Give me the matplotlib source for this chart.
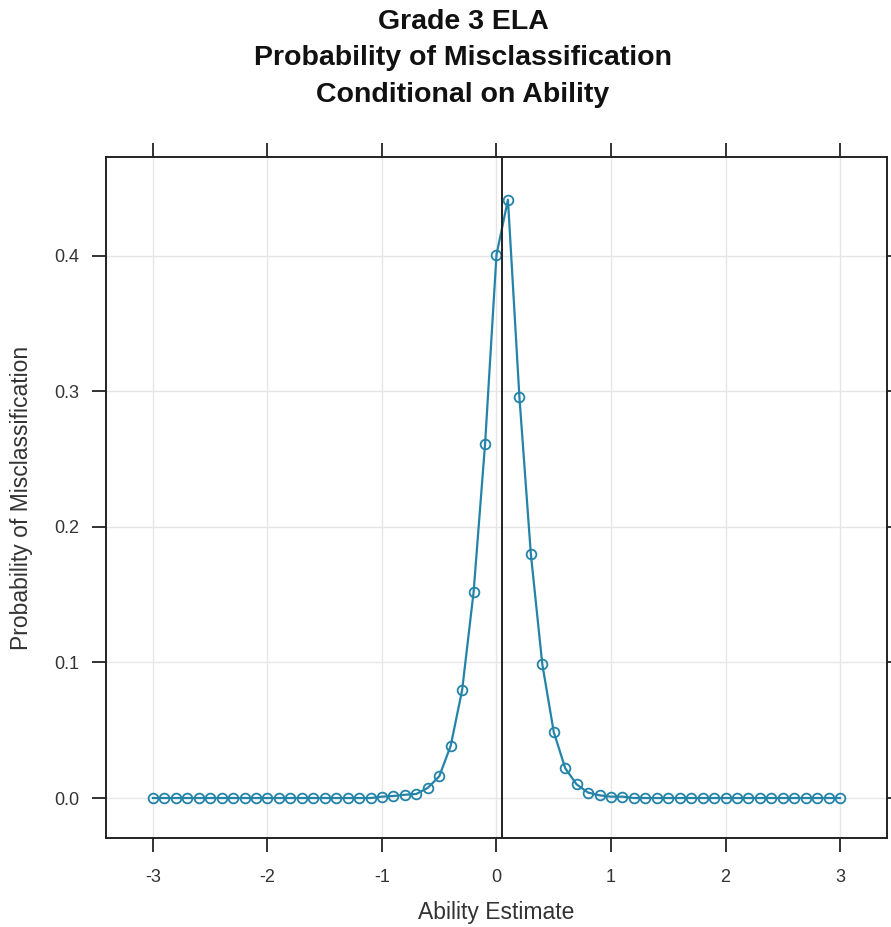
import matplotlib
matplotlib.use("Agg")
import matplotlib.pyplot as plt
import numpy as np

plt.rcParams['font.family'] = ['Liberation Sans', 'DejaVu Sans']

ability = [round(-3 + 0.1 * i, 1) for i in range(61)]
prob = [0.0] * 20 + [
    0.001, 0.0015, 0.0024, 0.003, 0.0075, 0.016, 0.0385, 0.0797, 0.152, 0.261,
    0.401, 0.4415, 0.296, 0.180, 0.0987, 0.0487, 0.022, 0.010, 0.004, 0.002,
    0.001, 0.001,
] + [0.0] * 19
cut_score = 0.05
xticks = [-3, -2, -1, 0, 1, 2, 3]
yticks = [0.0, 0.1, 0.2, 0.3, 0.4]

col = "#2383a8"
W, H = 891, 927
L, R, T, B = 106, 887, 157, 838
fig = plt.figure(figsize=(W/100, H/100), dpi=100)
ax = fig.add_axes([L/W, 1 - B/H, (R-L)/W, (B-T)/H])

ax.grid(True, color="#e6e6e6", linewidth=1)
ax.set_axisbelow(True)
ax.plot(ability, prob, color=col, linewidth=1.6, marker='o', markersize=7,
        markerfacecolor='none', markeredgecolor=col, markeredgewidth=1.3, zorder=3)
ax.axvline(cut_score, color="#222222", linewidth=1.4, zorder=4)

ax.set_xlim(-3.41, 3.41)
ax.set_ylim(-0.0295, 0.473)
ax.set_xticks(xticks)
ax.set_xticklabels([str(t) for t in xticks])
ax.set_yticks(yticks)
ax.set_yticklabels([f"{t:.1f}" for t in yticks])
ax.tick_params(axis='both', direction='out', length=10, width=1.3, color="#222222",
               labelsize=13, labelcolor="#333333", top=True, right=True)
ax.tick_params(axis='x', pad=12)
ax.tick_params(axis='y', pad=9)
for s in ax.spines.values():
    s.set_linewidth(1.4)
    s.set_color("#222222")

ax.set_xlabel("Ability Estimate", fontsize=16.5, color="#333333")
ax.xaxis.set_label_coords(0.5, (B - 913) / (B - T))
ax.xaxis.label.set_va('center')
ax.set_ylabel("Probability of Misclassification", fontsize=16.5, color="#333333")
ax.yaxis.set_label_coords((22 - L) / (R - L), 0.5)
ax.yaxis.label.set_va('center')

title_lines = ["Grade 3 ELA", "Probability of Misclassification", "Conditional on Ability"]
for line, yc in zip(title_lines, [22, 58, 95]):
    fig.text(463 / W, 1 - yc / H, line, ha='center', va='center', fontsize=20.5,
             fontweight='bold', color="#111111")

fig.savefig("out.png", dpi=100, facecolor='white')
